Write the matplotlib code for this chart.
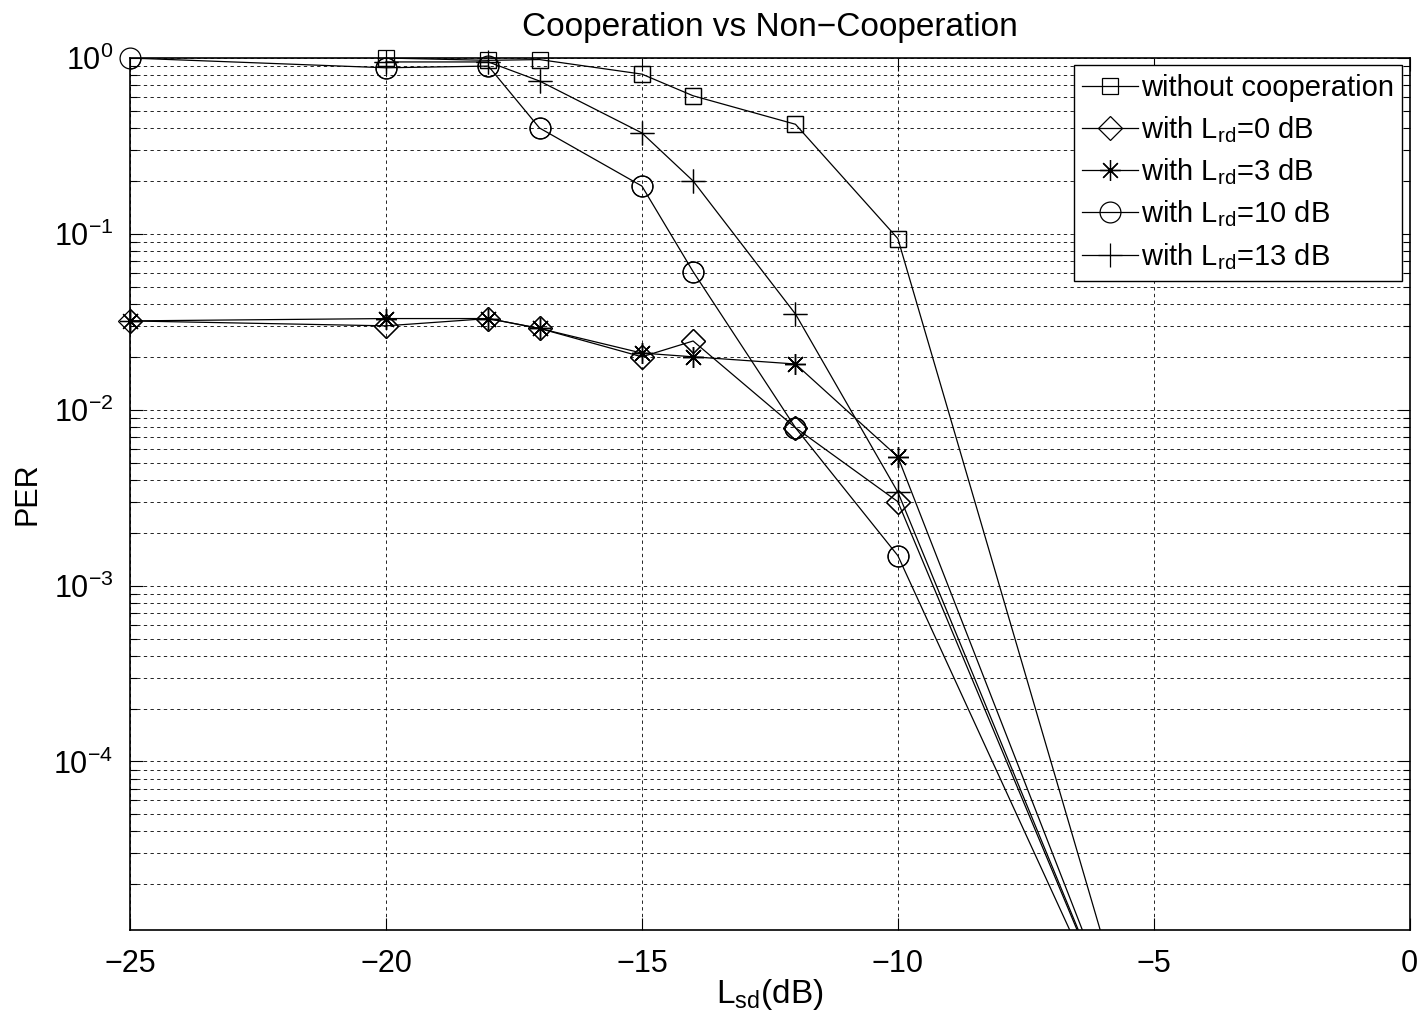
"""
PER vs L_sd, cooperation against no cooperation (MATLAB-style log plot)
"""
import matplotlib
matplotlib.use("Agg")
import matplotlib.pyplot as plt
from matplotlib.ticker import LogLocator, NullFormatter, FixedLocator

plt.rcParams["font.family"] = ["Liberation Sans", "DejaVu Sans"]
plt.rcParams["mathtext.fontset"] = "custom"
plt.rcParams["mathtext.rm"] = "Liberation Sans"
plt.rcParams["mathtext.it"] = "Liberation Sans"
plt.rcParams["axes.unicode_minus"] = True

# x positions (dB)
X_FULL = [-25, -20, -18, -17, -15, -14, -12, -10, -5]
X_SHORT = [-20, -18, -17, -15, -14, -12, -10, -5]

# PER values
PER_NOCOOP = [1.0, 0.97, 0.98, 0.81, 0.61, 0.42, 0.094, 1e-6]
PER_LRD0 = [0.032, 0.030, 0.033, 0.029, 0.020, 0.0246, 0.0079, 0.0030, 1e-6]
PER_LRD3 = [0.032, 0.033, 0.033, 0.029, 0.021, 0.020, 0.0182, 0.0054, 1e-6]
PER_LRD10 = [1.0, 0.88, 0.90, 0.40, 0.187, 0.061, 0.0079, 0.00148, 1e-6]
PER_LRD13 = [0.95, 0.95, 0.74, 0.375, 0.20, 0.035, 0.0034, 1e-6]

LABELS = [
    "without cooperation",
    r"with L$_{\mathrm{rd}}$=0 dB",
    r"with L$_{\mathrm{rd}}$=3 dB",
    r"with L$_{\mathrm{rd}}$=10 dB",
    r"with L$_{\mathrm{rd}}$=13 dB",
]

YMIN, YMAX = 1.1e-5, 1.0


def main():
    fig = plt.figure(figsize=(14.24, 10.18), dpi=100)
    ax = fig.add_axes([0.0913, 0.0864, 0.8987, 0.8566])

    series = [
        (X_SHORT, PER_NOCOOP, "s", 12),
        (X_FULL, PER_LRD0, "D", 12),
        (X_FULL, PER_LRD3, (8, 2, 0), 15),
        (X_FULL, PER_LRD10, "o", 15),
        (X_SHORT, PER_LRD13, "+", 17),
    ]
    kw = dict(color="black", lw=0.9, mfc="none", mec="black", mew=0.9)
    for (xs, ys, mk, ms), lab in zip(series, LABELS):
        ax.semilogy(xs, ys, marker=mk, ms=ms, label=lab, **kw)
        # markers sitting on the axes edge are not cut off (MATLAB look)
        px = [x for x, y in zip(xs, ys) if YMIN <= y <= YMAX]
        py = [y for y in ys if YMIN <= y <= YMAX]
        ax.semilogy(px, py, ls="none", marker=mk, ms=ms, clip_on=False,
                    mfc="none", mec="black", mew=0.9)

    ax.set_xlim(-25, 0)
    ax.set_ylim(YMIN, YMAX)
    ax.xaxis.set_major_locator(FixedLocator([-25, -20, -15, -10, -5, 0]))
    ax.yaxis.set_major_locator(LogLocator(base=10, numticks=10))
    ax.yaxis.set_minor_locator(LogLocator(base=10, subs=range(2, 10), numticks=10))
    ax.yaxis.set_minor_formatter(NullFormatter())

    ax.grid(True, which="major", ls=(0, (4, 4)), color="black", lw=0.6)
    ax.grid(True, which="minor", axis="y", ls=(0, (4, 4)), color="black", lw=0.6)

    ax.tick_params(which="both", direction="in", top=True, right=True, labelsize=22)
    ax.tick_params(which="major", length=9, width=0.8)
    ax.tick_params(which="minor", length=5, width=0.8)
    ax.tick_params(axis="x", pad=14)
    ax.tick_params(axis="y", pad=12)
    for s in ax.spines.values():
        s.set_linewidth(1.2)

    ax.set_title("Cooperation vs Non\u2212Cooperation", fontsize=24, pad=16)
    ax.set_xlabel(r"L$_{\mathrm{sd}}$(dB)", fontsize=24, labelpad=-2)
    ax.set_ylabel("PER", fontsize=22, labelpad=8)

    leg = ax.legend(loc="upper right", fontsize=21, handlelength=1.9,
                    handletextpad=0.1, labelspacing=0.4, borderpad=0.3,
                    borderaxespad=0.25, fancybox=False, framealpha=1)
    leg.get_frame().set_edgecolor("black")
    leg.get_frame().set_linewidth(1.0)

    fig.savefig("out.png", dpi=100)


if __name__ == "__main__":
    main()
